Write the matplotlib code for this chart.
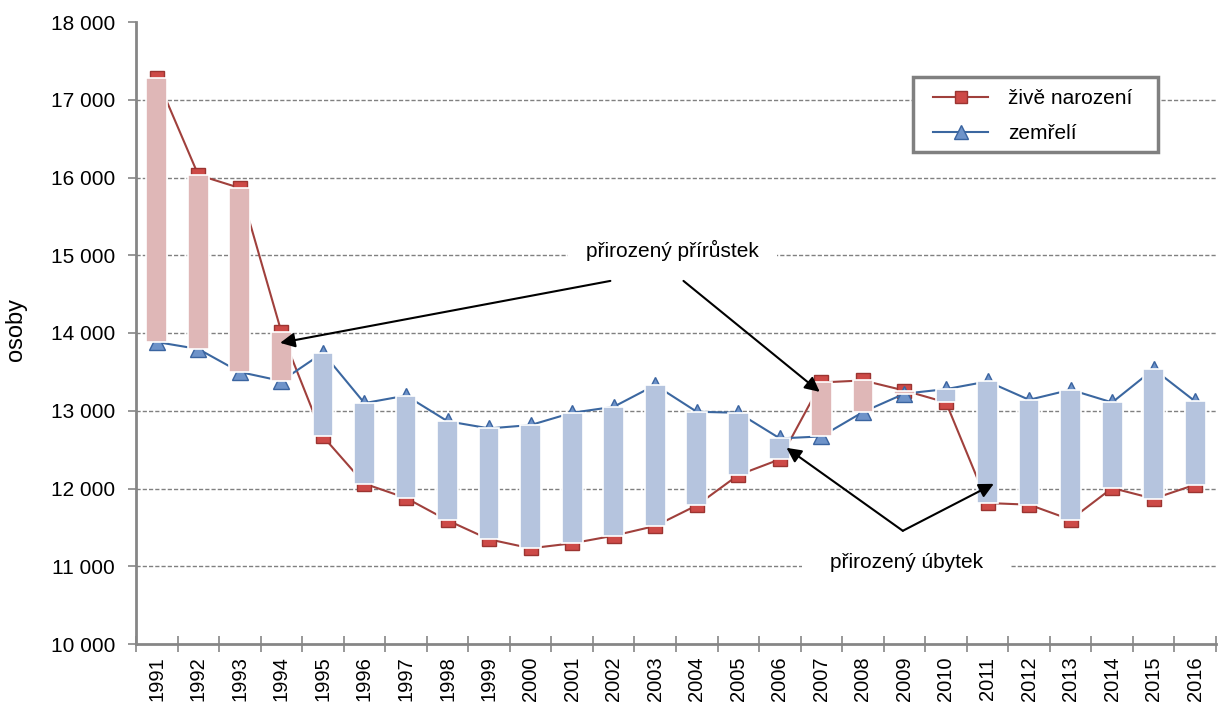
import numpy as np
import matplotlib
matplotlib.use("Agg")
import matplotlib.pyplot as plt
from matplotlib.patches import Rectangle

# data
years = list(range(1991, 2017))
births = [17280, 16032, 15865, 14013, 12670, 12062, 11878, 11590, 11346, 11231,
          11295, 11393, 11518, 11783, 12173, 12375, 13364, 13390, 13260, 13107,
          11813, 11792, 11599, 12006, 11869, 12049]
deaths = [13884, 13794, 13498, 13383, 13745, 13098, 13195, 12865, 12773, 12816,
          12974, 13051, 13330, 12987, 12974, 12644, 12670, 12983, 13220, 13278,
          13377, 13141, 13270, 13107, 13535, 13120]
yticks = list(range(10000, 18001, 1000))

W, H = 1219, 704
plt.rcParams['font.family'] = ['Liberation Sans', 'DejaVu Sans']

fig = plt.figure(figsize=(W / 100, H / 100), dpi=100)
ax = fig.add_axes([136 / W, 1 - 644 / H, 1080 / W, 622 / H])

x = np.arange(len(years))
b = np.array(births)
d = np.array(deaths)

# lines + markers (under the up/down bars)
ax.plot(x, b, color='#a0403c', lw=1.5, marker='s', ms=10.5, mfc='#cd4a47',
        mec='#9b3431', mew=1, zorder=3, label='živě narození')
ax.plot(x, d, color='#3b67a0', lw=1.5, marker='^', ms=12, mfc='#6e93c9',
        mec='#3a64a0', mew=1, zorder=3, label='zemřelí')

# up / down bars
lo = np.minimum(b, d)
hi = np.maximum(b, d)
cols = ['#dfb7b7' if bb > dd else '#b5c4de' for bb, dd in zip(b, d)]
ax.bar(x, hi - lo, bottom=lo, width=0.5, color=cols, edgecolor='white',
       linewidth=1.2, zorder=4)

ax.set_xlim(-0.5, len(years) - 0.5)
ax.set_ylim(10000, 18000)
ax.set_yticks(yticks)
ax.set_yticklabels([f"{v:,}".replace(",", " ") for v in yticks], fontsize=15)
ax.set_xticks(x)
ax.set_xticklabels([str(yr) for yr in years], rotation=90, fontsize=14.5)
ax.set_xticks(np.arange(-0.5, len(years)), minor=True)
ax.tick_params(axis='x', which='major', length=0, pad=9)
ax.tick_params(axis='x', which='minor', direction='inout', length=12,
               color='#868686', width=1.2)
ax.tick_params(axis='y', direction='out', length=6, color='#868686',
               width=1.2, pad=9)

for v in yticks[1:-1]:
    ax.axhline(v, color='#808080', lw=1, ls=(0, (3, 1.5)), zorder=1)

for s in ['top', 'right']:
    ax.spines[s].set_visible(False)
for s in ['left', 'bottom']:
    ax.spines[s].set_color('#868686')
    ax.spines[s].set_linewidth(2)

ax.set_ylabel('osoby', fontsize=17)
ax.yaxis.set_label_coords(-0.101, 0.505)

# annotations
ax.text(12.42, 15056, 'přirozený přírůstek', fontsize=15, ha='center',
        va='center', zorder=5,
        bbox=dict(facecolor='white', edgecolor='none', pad=13))
ax.text(18.05, 11044, 'přirozený úbytek', fontsize=15, ha='center',
        va='center', zorder=5,
        bbox=dict(facecolor='white', edgecolor='none', pad=20))

arrow = dict(arrowstyle='-|>', color='black', lw=1.5, mutation_scale=22,
             shrinkA=0, shrinkB=0)
ax.annotate('', xy=(2.97, 13873), xytext=(10.92, 14670), arrowprops=arrow, zorder=6)
ax.annotate('', xy=(15.96, 13243), xytext=(12.68, 14670), arrowprops=arrow, zorder=6)
ax.annotate('', xy=(15.16, 12523), xytext=(17.96, 11456), arrowprops=arrow, zorder=6)
ax.annotate('', xy=(20.15, 12060), xytext=(17.96, 11456), arrowprops=arrow, zorder=6)

# legend box
box = Rectangle((913 / W, 1 - 152 / H), 245 / W, 75 / H, transform=fig.transFigure,
                facecolor='white', edgecolor='#808080', lw=2.5, zorder=7,
                clip_on=False)
ax.add_patch(box)
leg = ax.legend(loc='upper left', bbox_to_anchor=(923 / W, 1 - 79 / H),
                bbox_transform=fig.transFigure, frameon=False, fontsize=15,
                handlelength=2.6, handletextpad=1.0, labelspacing=0.75,
                borderpad=0, markerscale=0.8)
leg.set_zorder(8)

fig.savefig('out.png', dpi=100)
